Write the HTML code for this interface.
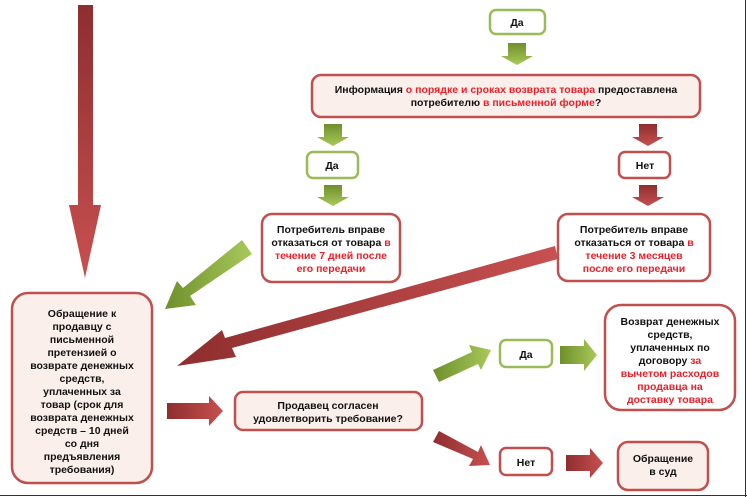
<!DOCTYPE html>
<html><head><meta charset="utf-8"><style>
html,body{margin:0;padding:0;background:#fff;}
svg{display:block;}
text{font-family:"Liberation Sans",sans-serif;font-weight:bold;font-size:10.5px;fill:#111;text-anchor:middle;}
.r{fill:#e8212a;}
</style></head><body>
<svg width="747" height="497" viewBox="0 0 747 497" xmlns="http://www.w3.org/2000/svg">
<defs>
<linearGradient id="rg" x1="0" y1="0" x2="0" y2="1"><stop offset="0" stop-color="#8e2e2e"/><stop offset="1" stop-color="#c85050"/></linearGradient>
<linearGradient id="gg" x1="0" y1="0" x2="0" y2="1"><stop offset="0" stop-color="#6f8f2c"/><stop offset="1" stop-color="#a8c95a"/></linearGradient>
<linearGradient id="rh" x1="0" y1="0" x2="1" y2="0"><stop offset="0" stop-color="#8e2e2e"/><stop offset="1" stop-color="#c85050"/></linearGradient>
<linearGradient id="gh" x1="0" y1="0" x2="1" y2="0"><stop offset="0" stop-color="#6f8f2c"/><stop offset="1" stop-color="#a8c95a"/></linearGradient>
</defs>
<rect x="0" y="0" width="747" height="497" fill="#fff"/>
<line x1="745.5" y1="0" x2="745.5" y2="497" stroke="#333" stroke-width="1"/>
<line x1="0" y1="495.5" x2="747" y2="495.5" stroke="#333" stroke-width="1"/>

<!-- big red down arrow -->
<polygon points="78,5 93,5 93,205 101,205 85,278 69,205 78,205" fill="url(#rg)"/>

<!-- green small down arrows -->
<polygon points="508,43 526,43 526,56 533,56 517,65 501,56 508,56" fill="url(#gg)"/>
<polygon points="324,124 342,124 342,137 349,137 333,146 317,137 324,137" fill="url(#gg)"/>
<polygon points="324,185 342,185 342,197 349,197 333,206 317,197 324,197" fill="url(#gg)"/>
<polygon points="639,124 657,124 657,137 664,137 648,146 632,137 639,137" fill="url(#rg)"/>
<polygon points="639,185 657,185 657,197 664,197 648,206 632,197 639,197" fill="url(#rg)"/>

<!-- green diagonal to left box -->
<polygon points="242,240 252,254 190,296 196,305 165,309 177,281 183,288" fill="url(#gh)"/>
<!-- long red diagonal -->
<polygon points="555,246 558,259 232,348 236,357 177,366 222,330 225,338" fill="url(#rh)"/>
<!-- red right arrow -->
<polygon points="167,403 209,403 209,396 223,411 209,426 209,419 167,419" fill="url(#rh)"/>
<!-- green diagonal up-right -->
<polygon points="433,370 472,352 469,345 491,350 481,370 478,364 439,382" fill="url(#gh)"/>
<!-- green right -->
<polygon points="560,346 584,346 584,339 597,355 584,371 584,364 560,364" fill="url(#gh)"/>
<!-- red diagonal down-right -->
<polygon points="439,431 478,452 481,445 490,465 469,466 473,459 433,442" fill="url(#rh)"/>
<!-- red right -->
<polygon points="566,455 590,455 590,448 603,463 590,478 590,471 566,471" fill="url(#rh)"/>

<!-- boxes -->
<g stroke-width="2.5">
<rect x="490" y="10" width="55" height="24" rx="6" fill="#fff" stroke="#9bbb59"/>
<rect x="312" y="75" width="388" height="42" rx="9" fill="#fbefec" stroke="#c0504d"/>
<rect x="307" y="152" width="51" height="26" rx="6" fill="#fff" stroke="#9bbb59"/>
<rect x="619" y="152" width="51" height="26" rx="6" fill="#fff" stroke="#c0504d"/>
<rect x="262" y="214" width="138" height="68" rx="10" fill="#fff" stroke="#c0504d"/>
<rect x="558" y="214" width="152" height="67" rx="10" fill="#fff" stroke="#c0504d"/>
<rect x="12" y="293" width="140" height="190" rx="16" fill="#fbefec" stroke="#c0504d"/>
<rect x="235" y="392" width="187" height="38" rx="8" fill="#fbefec" stroke="#c0504d"/>
<rect x="500" y="340" width="52" height="27" rx="6" fill="#fff" stroke="#9bbb59"/>
<rect x="605" y="305" width="130" height="105" rx="16" fill="#fff" stroke="#c0504d"/>
<rect x="500" y="448" width="52" height="27" rx="6" fill="#fff" stroke="#c0504d"/>
<rect x="618" y="442" width="90" height="48" rx="10" fill="#fbefec" stroke="#c0504d"/>
</g>

<text x="517" y="26">Да</text>
<text x="506" y="93">Информация <tspan class="r">о порядке и сроках возврата товара</tspan> предоставлена</text>
<text x="506" y="106">потребителю <tspan class="r">в письменной форме</tspan>?</text>
<text x="332" y="169">Да</text>
<text x="645" y="169">Нет</text>
<text x="331" y="233">Потребитель вправе</text>
<text x="331" y="246">отказаться от товара <tspan class="r">в</tspan></text>
<text x="331" y="259" class="r">течение 7 дней после</text>
<text x="331" y="272" class="r">его передачи</text>
<text x="634" y="233">Потребитель вправе</text>
<text x="634" y="246">отказаться от товара <tspan class="r">в</tspan></text>
<text x="634" y="259" class="r">течение 3 месяцев</text>
<text x="634" y="272" class="r">после его передачи</text>
<text x="82" y="317">Обращение к</text>
<text x="82" y="330">продавцу с</text>
<text x="82" y="343">письменной</text>
<text x="82" y="356">претензией о</text>
<text x="82" y="369">возврате денежных</text>
<text x="82" y="382">средств,</text>
<text x="82" y="395">уплаченных за</text>
<text x="82" y="408">товар (срок для</text>
<text x="82" y="421">возврата денежных</text>
<text x="82" y="434">средств – 10 дней</text>
<text x="82" y="447">со дня</text>
<text x="82" y="460">предъявления</text>
<text x="82" y="473">требования)</text>
<text x="328" y="409">Продавец согласен</text>
<text x="328" y="422">удовлетворить требование?</text>
<text x="526" y="358">Да</text>
<text x="526" y="466">Нет</text>
<text x="670" y="325">Возврат денежных</text>
<text x="670" y="338">средств,</text>
<text x="670" y="351">уплаченных по</text>
<text x="670" y="364">договору <tspan class="r">за</tspan></text>
<text x="670" y="377" class="r">вычетом расходов</text>
<text x="670" y="390" class="r">продавца на</text>
<text x="670" y="403" class="r">доставку товара</text>
<text x="663" y="462">Обращение</text>
<text x="663" y="475">в суд</text>
</svg>
</body></html>
